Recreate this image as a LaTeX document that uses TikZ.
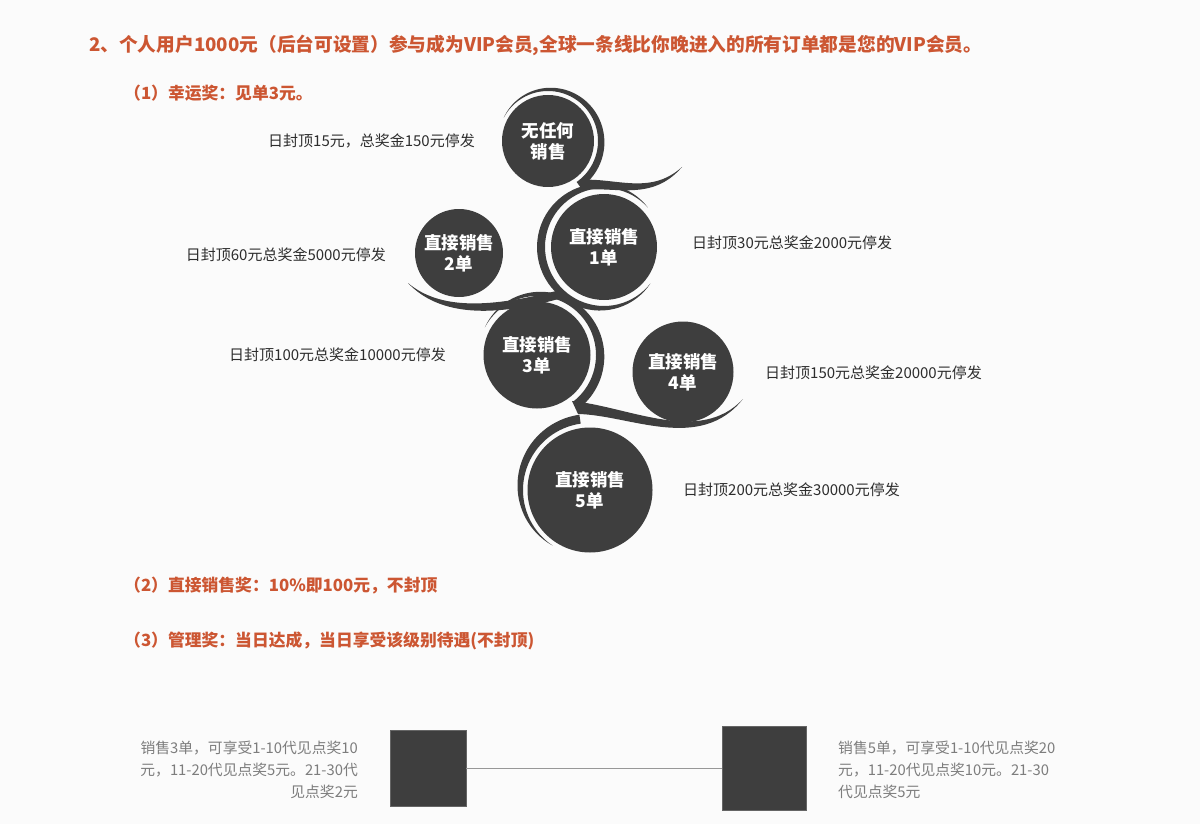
\documentclass[tikz,border=0pt]{standalone}
\usepackage{fontspec}
\setmainfont{Noto Sans CJK SC}
\definecolor{org}{RGB}{204,86,50}
\definecolor{dk}{RGB}{62,62,62}
\definecolor{lbl}{RGB}{45,45,45}
\definecolor{gtx}{RGB}{125,125,125}
\definecolor{bg}{RGB}{251,251,251}
% ring tapered at both ends: cx, cy, inner r, thickness, a1, a2
\newcommand\ringTwo[6]{%
\fill[dk] plot[domain=#5:#6,samples=60] ({#1+(#3+#4*sin(180*((\x-(#5))/((#6)-(#5)))))*cos(\x)},{#2-(#3+#4*sin(180*((\x-(#5))/((#6)-(#5)))))*sin(\x)})
 -- plot[domain=#6:#5,samples=60] ({#1+#3*cos(\x)},{#2-#3*sin(\x)}) -- cycle;}
% ring tapered at start only
\newcommand\ringOne[6]{%
\fill[dk] plot[domain=#5:#6,samples=60] ({#1+(#3+#4*sin(90*((\x-(#5))/((#6)-(#5)))))*cos(\x)},{#2-(#3+#4*sin(90*((\x-(#5))/((#6)-(#5)))))*sin(\x)})
 -- plot[domain=#6:#5,samples=60] ({#1+#3*cos(\x)},{#2-#3*sin(\x)}) -- cycle;}
\tikzset{
  ttl/.style={anchor=west,inner sep=0pt,text=org,font=\bfseries\fontsize{18.7}{22}\selectfont},
  sub/.style={anchor=west,inner sep=0pt,text=org,font=\bfseries\fontsize{16.8}{20}\selectfont},
  lab/.style={inner sep=0pt,text=lbl,font=\fontsize{15}{18}\selectfont},
  circ/.style={circle,fill=dk,text=white,align=center,inner sep=0pt,font=\bfseries\fontsize{17.5}{21}\selectfont},
  gtext/.style={inner sep=0pt,text=gtx,font=\fontsize{14.8}{22}\selectfont},
  sq/.style={fill=dk,draw=dk!80,inner sep=0pt},
  gline/.style={draw=gtx!80,line width=0.8pt}
}
\begin{document}
\begin{tikzpicture}[x=1pt,y=-1pt]
\fill[bg] (0,0) rectangle (1200,824);
\useasboundingbox (0,0) rectangle (1200,824);

% titles
\node[ttl] (t0) at (89,45) {2、个人用户1000元（后台可设置）参与成为VIP会员,全球一条线比你晚进入的所有订单都是您的VIP会员。};
\node[sub] (t1) at (124,93) {（1）幸运奖：见单3元。};
\node[sub] (t2) at (124,586) {（2）直接销售奖：10\%即100元，不封顶};
\node[sub] (t3) at (124,641) {（3）管理奖：当日达成，当日享受该级别待遇(不封顶)};

% swirls
\ringOne{548}{141}{50}{7}{152}{-55}
\fill[dk] (579,180) .. controls (615,177) and (650,196) .. (682,167) .. controls (652,202) and (615,186) .. (582,190) -- cycle;
\ringTwo{604}{247}{59}{8}{42}{322}
\fill[dk] (408,283) .. controls (440,310) and (490,308) .. (560,290) -- (562,298) .. controls (495,317) and (440,317) .. (408,283) -- cycle;
\ringOne{537}{355}{59}{9}{152}{-52}
\fill[dk] (572,401) .. controls (630,407) and (700,445) .. (743,399) .. controls (700,453) and (630,415) .. (578,414) -- cycle;
\ringOne{590}{490}{67}{9}{236}{98}

% circles
\node[circ,minimum size=92pt] (c0) at (548,141) {无任何\\销售};
\node[circ,minimum size=106pt] (c1) at (604,247) {直接销售\\1单};
\node[circ,minimum size=88pt] (c2) at (459,253) {直接销售\\2单};
\node[circ,minimum size=107pt] (c3) at (537,355) {直接销售\\3单};
\node[circ,minimum size=101pt] (c4) at (683,372) {直接销售\\4单};
\node[circ,minimum size=125pt] (c5) at (590,490) {直接销售\\5单};

% labels
\node[lab,anchor=east] (l0) at (475,141) {日封顶15元，总奖金150元停发};
\node[lab,anchor=west] (l1) at (692,243) {日封顶30元总奖金2000元停发};
\node[lab,anchor=east] (l2) at (386,255) {日封顶60元总奖金5000元停发};
\node[lab,anchor=east] (l3) at (446,355) {日封顶100元总奖金10000元停发};
\node[lab,anchor=west] (l4) at (765,373) {日封顶150元总奖金20000元停发};
\node[lab,anchor=west] (l5) at (683,490) {日封顶200元总奖金30000元停发};

% bottom
\node[sq,minimum width=76pt,minimum height=76pt] (s1) at (428,768) {};
\node[sq,minimum width=84pt,minimum height=84pt] (s2) at (764,768) {};
\draw[gline] (s1) -- (s2);
\node[gtext,anchor=east,align=right] (b1) at (358,770) {销售3单，可享受1-10代见点奖10\\元，11-20代见点奖5元。21-30代\\见点奖2元};
\node[gtext,anchor=west,align=left] (b2) at (838,770) {销售5单，可享受1-10代见点奖20\\元，11-20代见点奖10元。21-30\\代见点奖5元};
\end{tikzpicture}
\end{document}
